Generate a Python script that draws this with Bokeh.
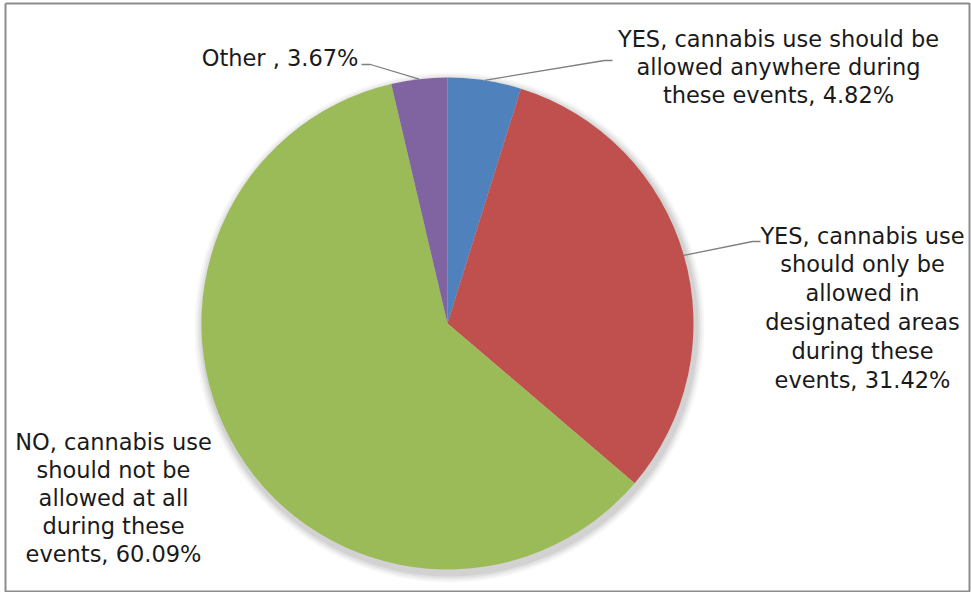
import math
from bokeh.plotting import figure
from bokeh.models import Range1d
from bokeh.core.properties import value
from bokeh.embed import file_html
from bokeh.resources import INLINE

# ---- data ----
categories = [
    "YES, cannabis use should be allowed anywhere during these events",
    "YES, cannabis use should only be allowed in designated areas during these events",
    "NO, cannabis use should not be allowed at all during these events",
    "Other ",
]
percentages = [4.82, 31.42, 60.09, 3.67]
colors = ["#4F81BD", "#C0504D", "#9BBB59", "#8064A2"]
label_lines = [
    ["YES, cannabis use should be", "allowed anywhere during", "these events, 4.82%"],
    ["YES, cannabis use", "should only be", "allowed in", "designated areas", "during these", "events, 31.42%"],
    ["NO, cannabis use", "should not be", "allowed at all", "during these", "events, 60.09%"],
    ["Other , 3.67%"],
]

# ---- layout (reference pixel coords; y measured from top) ----
W, H = 971, 592
CX, CY, R = 447, 323, 246
FONT = "DejaVu Sans"
FS = "22.5px"
label_anchor = [(778, 38), (862, 235), (113, 441), (358, 57)]
label_align = ["center", "center", "center", "right"]
line_gap = [28, 28.8, 28, 0]
elbows = [[(604, 60), (612, 60)], [(752, 241), (760, 241)], None, [(370, 64), (361, 64)]]


def sy(y):
    return H - y


p = figure(width=W, height=H, output_backend="svg", toolbar_location=None,
           x_range=Range1d(0, W), y_range=Range1d(0, H),
           min_border=0, border_fill_color="white", background_fill_color="white")
p.axis.visible = False
p.grid.visible = False
p.outline_line_color = None

# chart frame
p.line(x=[5, 969, 969, 5, 5], y=[sy(3), sy(3), sy(591), sy(591), sy(3)],
       line_color="#8C8C8C", line_width=2)

# soft shadow
for k, a in [(9, 0.03), (7, 0.04), (5, 0.05), (3, 0.06)]:
    p.circle(x=[CX + 2], y=[sy(CY + 4)], radius=R + k, fill_color="#000000",
             fill_alpha=a, line_color=None)

total = sum(percentages)
starts, ends, mids = [], [], []
cum = 0.0
for v in percentages:
    a0 = math.pi / 2 - 2 * math.pi * cum / total
    cum += v
    a1 = math.pi / 2 - 2 * math.pi * cum / total
    starts.append(a0)
    ends.append(a1)
    mids.append((a0 + a1) / 2)

p.wedge(x=[CX] * 4, y=[sy(CY)] * 4, radius=R, start_angle=starts, end_angle=ends,
        direction="clock", fill_color=colors, line_color="white", line_width=0)

for i, el in enumerate(elbows):
    if el is None:
        continue
    x0 = CX + R * math.cos(mids[i])
    y0 = sy(CY) + R * math.sin(mids[i])
    xs = [x0] + [e[0] for e in el]
    ys = [y0] + [sy(e[1]) for e in el]
    p.line(xs, ys, line_color="#7F7F7F", line_width=1.3)

for i, lines in enumerate(label_lines):
    ax, ay = label_anchor[i]
    xs = [ax] * len(lines)
    ys = [sy(ay + j * line_gap[i]) for j in range(len(lines))]
    p.text(x=xs, y=ys, text=lines, text_align=label_align[i], text_baseline="middle",
           text_font=value(FONT), text_font_size=FS, text_color="#1A1A1A")

open("out.html", "w").write(file_html(p, INLINE))
